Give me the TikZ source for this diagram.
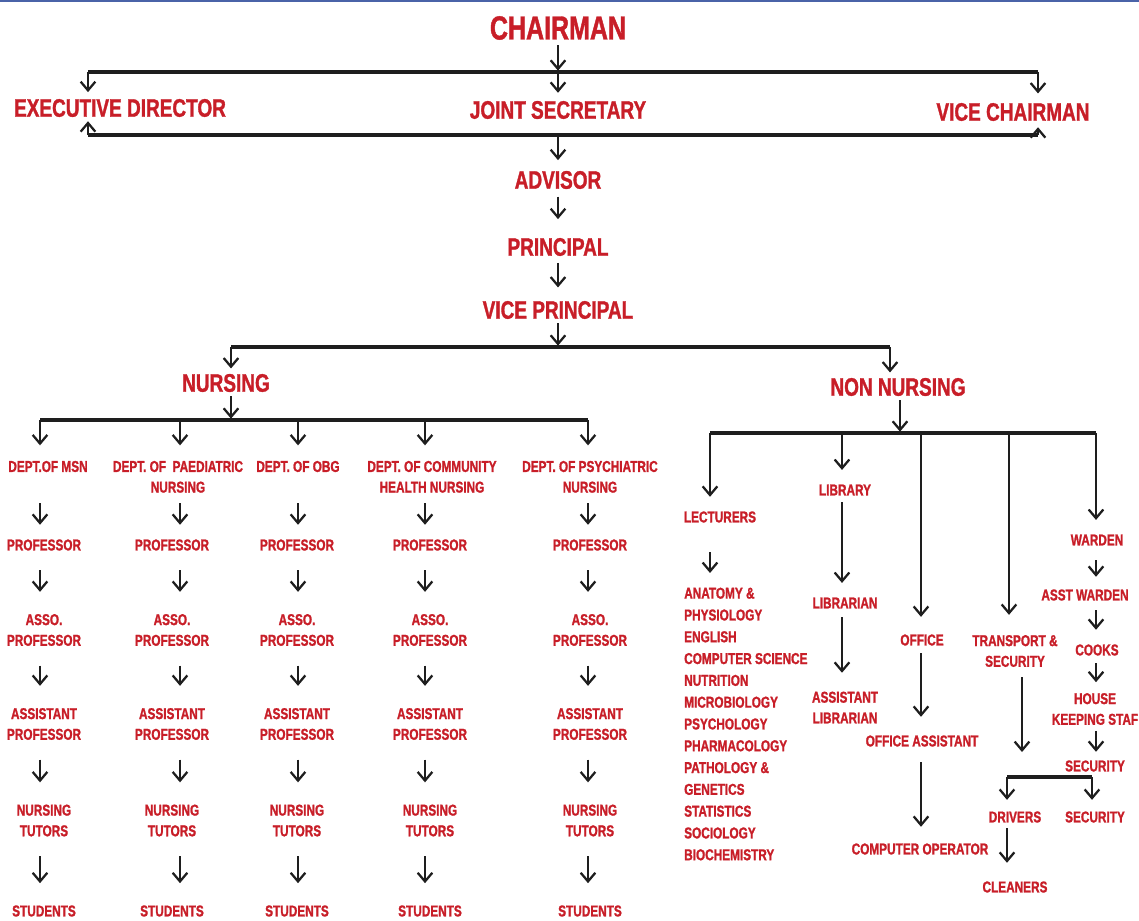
\documentclass[tikz,border=0pt]{standalone}
\usepackage{fontspec}
\setmainfont{Liberation Sans}[FakeStretch=0.75, BoldFeatures={FakeBold=1.2}]
\usetikzlibrary{arrows.meta, calc}
\definecolor{orgRed}{HTML}{C81E28}
\definecolor{barDark}{HTML}{1E1E1E}
\definecolor{edgeBlue}{HTML}{4A63A8}

\tikzset{
  chairlbl/.style={font=\bfseries\fontsize{25}{28}\selectfont, text=orgRed, inner sep=2pt},
  toplbl/.style={font=\bfseries\fontsize{19}{22}\selectfont, text=orgRed, inner sep=2pt},
  lbl/.style={font=\bfseries\fontsize{11.8}{15.5}\selectfont, text=orgRed, align=center, inner sep=2pt},
  bar/.style={line width=3pt, draw=barDark},
  drop/.style={line width=1.7pt, draw=barDark, -{Straight Barb[length=6.5pt,width=11pt]}},
  flow/.style={drop, shorten <=12.5pt, shorten >=14.5pt},
}

\begin{document}
\begin{tikzpicture}[x=0.75pt, y=-0.75pt]
  \useasboundingbox (0,0) rectangle (1139,921);
  \fill[white] (0,0) rectangle (1139,921);
  \draw[line width=1.2pt, edgeBlue] (0,0.8) -- (1139,0.8);

  % top board
  \node[chairlbl] (chair) at (558,28) {CHAIRMAN};
  \node[toplbl] (ed) at (120,108) {EXECUTIVE DIRECTOR};
  \node[toplbl] (js) at (558,110) {JOINT SECRETARY};
  \node[toplbl] (vc) at (1013,112) {VICE CHAIRMAN};

  \coordinate (upL) at (88,72);
  \coordinate (upM) at (558,72);
  \coordinate (upR) at (1038,72);
  \coordinate (loL) at (88,135);
  \coordinate (loM) at (558,135);
  \coordinate (loR) at (1038,135);

  \draw[bar] (upL) -- (upR);
  \draw[bar] (loL) -- (loR);
  \draw[drop, shorten <=2pt, shorten >=1pt] (chair) -- (upM);
  \draw[drop, shorten >=3pt] (upL) -- (upL |- ed.north);
  \draw[drop, shorten >=4pt] (upM) -- (js);
  \draw[drop, shorten >=5pt] (upR) -- (upR |- vc.north);
  \draw[drop, shorten >=1pt] (loL) -- (loL |- ed.south);
  \draw[drop, shorten >=2.5pt] (loR) -- (loR |- vc.south);

  % main chain
  \node[toplbl] (adv) at (558,180) {ADVISOR};
  \node[toplbl] (prin) at (558,247) {PRINCIPAL};
  \node[toplbl] (vp) at (558,310) {VICE PRINCIPAL};
  \draw[drop, shorten >=6pt] (loM) -- (adv);
  \draw[drop, shorten <=3.5pt, shorten >=12pt] (adv) -- (prin);
  \draw[drop, shorten <=3pt, shorten >=8pt] (prin) -- (vp);

  \coordinate (midL) at (231,347);
  \coordinate (midM) at (558,347);
  \coordinate (midR) at (890,347);
  \draw[drop, shorten <=1pt, shorten >=1pt] (vp) -- (midM);
  \draw[bar] (midL) -- (midR);

  \node[toplbl] (nur) at (226,383) {NURSING};
  \node[toplbl] (non) at (898,387) {NON NURSING};
  \draw[drop, shorten >=2pt] (midL) -- (midL |- nur.north);
  \draw[drop, shorten >=2pt] (midR) -- (midR |- non.north);

  % nursing departments
  \coordinate (nurBar) at (231,420);
  \coordinate (c1) at (40,420);
  \coordinate (c2) at (180,420);
  \coordinate (c3) at (298,420);
  \coordinate (c4) at (425,420);
  \coordinate (c5) at (588,420);
  \draw[drop, shorten <=1pt, shorten >=1pt] (nurBar |- nur.south) -- (nurBar);
  \draw[bar] (c1) -- (c5);

  \node[lbl, anchor=north, text depth=15.5pt] (d1) at (48,458) {DEPT.OF MSN};
  \node[lbl, anchor=north] (d2) at (178,458) {DEPT. OF\ \ PAEDIATRIC\\NURSING};
  \node[lbl, anchor=north, text depth=15.5pt] (d3) at (298,458) {DEPT. OF OBG};
  \node[lbl, anchor=north] (d4) at (432,458) {DEPT. OF COMMUNITY\\HEALTH NURSING};
  \node[lbl, anchor=north] (d5) at (590,458) {DEPT. OF PSYCHIATRIC\\NURSING};

  \foreach \i/\cx in {1/44, 2/172, 3/297, 4/430, 5/590} {
    \node[lbl] (prof\i) at (\cx,545) {PROFESSOR};
    \node[lbl] (asso\i) at (\cx,630) {ASSO.\\PROFESSOR};
    \node[lbl] (asst\i) at (\cx,724) {ASSISTANT\\PROFESSOR};
    \node[lbl] (tut\i) at (\cx,820.5) {NURSING\\TUTORS};
    \node[lbl] (stu\i) at (\cx,911) {STUDENTS};
    \draw[drop, shorten >=9.5pt] (c\i) -- (c\i |- d\i.north);
    \draw[drop, shorten <=5.8pt, shorten >=8.8pt] (c\i |- d\i.south) -- (c\i |- prof\i.north);
    \draw[flow] (c\i |- prof\i.south) -- (c\i |- asso\i.north);
    \draw[flow] (c\i |- asso\i.south) -- (c\i |- asst\i.north);
    \draw[flow] (c\i |- asst\i.south) -- (c\i |- tut\i.north);
    \draw[flow] (c\i |- tut\i.south) -- (c\i |- stu\i.north);
  }

  % non nursing
  \coordinate (nonBar) at (900,433);
  \coordinate (n1) at (710,433);
  \coordinate (n2) at (842,433);
  \coordinate (n3) at (921,433);
  \coordinate (n4) at (1009,433);
  \coordinate (n5) at (1096,433);
  \draw[drop, shorten <=1pt, shorten >=1pt] (nonBar |- non.south) -- (nonBar);
  \draw[bar] (n1) -- (n5);

  \node[lbl] (lect) at (720,517) {LECTURERS};
  \node[lbl, align=left, anchor=north west, font=\bfseries\fontsize{11.8}{16.35}\selectfont]
    (subj) at (681.3,584.7) {ANATOMY \&\\PHYSIOLOGY\\ENGLISH\\COMPUTER SCIENCE\\NUTRITION\\MICROBIOLOGY\\PSYCHOLOGY\\PHARMACOLOGY\\PATHOLOGY \&\\GENETICS\\STATISTICS\\SOCIOLOGY\\BIOCHEMISTRY};
  \node[lbl] (lib) at (845,490) {LIBRARY};
  \node[lbl] (libn) at (845,603) {LIBRARIAN};
  \node[lbl] (alib) at (845,707.5) {ASSISTANT\\LIBRARIAN};
  \node[lbl] (off) at (922,640) {OFFICE};
  \node[lbl] (offa) at (922,741) {OFFICE ASSISTANT};
  \node[lbl] (cop) at (920,849) {COMPUTER OPERATOR};
  \node[lbl] (trans) at (1015,651) {TRANSPORT \&\\SECURITY};
  \node[lbl] (drv) at (1015,817) {DRIVERS};
  \node[lbl] (cln) at (1015,887) {CLEANERS};
  \node[lbl] (ward) at (1097,540) {WARDEN};
  \node[lbl] (award) at (1085,595) {ASST WARDEN};
  \node[lbl] (cook) at (1097,650) {COOKS};
  \node[lbl] (house) at (1095,709) {HOUSE\\KEEPING STAF};
  \node[lbl] (sec) at (1095,766) {SECURITY};
  \node[lbl] (sec2) at (1095,817) {SECURITY};

  \draw[drop, shorten >=8.8pt] (n1) -- (n1 |- lect.north);
  \draw[drop, shorten >=8.8pt] (n2) -- (n2 |- lib.north);
  \draw[drop, shorten >=11pt] (n3) -- (n3 |- off.north);
  \draw[drop, shorten >=13pt] (n4) -- (n4 |- trans.north);
  \draw[drop, shorten >=8.8pt] (n5) -- (n5 |- ward.north);

  \draw[drop, shorten <=20pt, shorten >=8.8pt] (n1 |- lect.south) -- (n1 |- subj.north);
  \draw[drop, shorten <=2.8pt, shorten >=8.8pt] (n2 |- lib.south) -- (n2 |- libn.north);
  \draw[drop, shorten <=4.3pt, shorten >=12pt] (n2 |- libn.south) -- (n2 |- alib.north);
  \draw[drop, shorten <=3.5pt, shorten >=11.8pt] (n3 |- off.south) -- (n3 |- offa.north);
  \draw[drop, shorten <=9.5pt, shorten >=10.3pt] (n3 |- offa.south) -- (n3 |- cop.north);

  \coordinate (tEnd) at (1022,752);
  \coordinate (bL) at (1007,777);
  \coordinate (bR) at (1092,777);
  \draw[drop, shorten <=5.5pt] (tEnd |- trans.south) -- (tEnd);
  \draw[bar] (bL) -- (bR);
  \draw[drop, shorten >=6.5pt] (bL) -- (bL |- drv.north);
  \draw[drop, shorten >=6.5pt] (bR) -- (bR |- sec2.north);
  \draw[drop, shorten <=2pt, shorten >=11.8pt] (bL |- drv.south) -- (bL |- cln.north);

  \draw[drop, shorten <=8.8pt, shorten >=7.3pt] (n5 |- ward.south) -- (n5 |- award.north);
  \draw[drop, shorten <=5pt, shorten >=8.8pt] (n5 |- award.south) -- (n5 |- cook.north);
  \draw[drop, shorten <=3.5pt, shorten >=6pt] (n5 |- cook.south) -- (n5 |- house.north);
  \draw[drop, shorten <=2.2pt, shorten >=4.3pt] (n5 |- house.south) -- (n5 |- sec.north);
\end{tikzpicture}
\end{document}
